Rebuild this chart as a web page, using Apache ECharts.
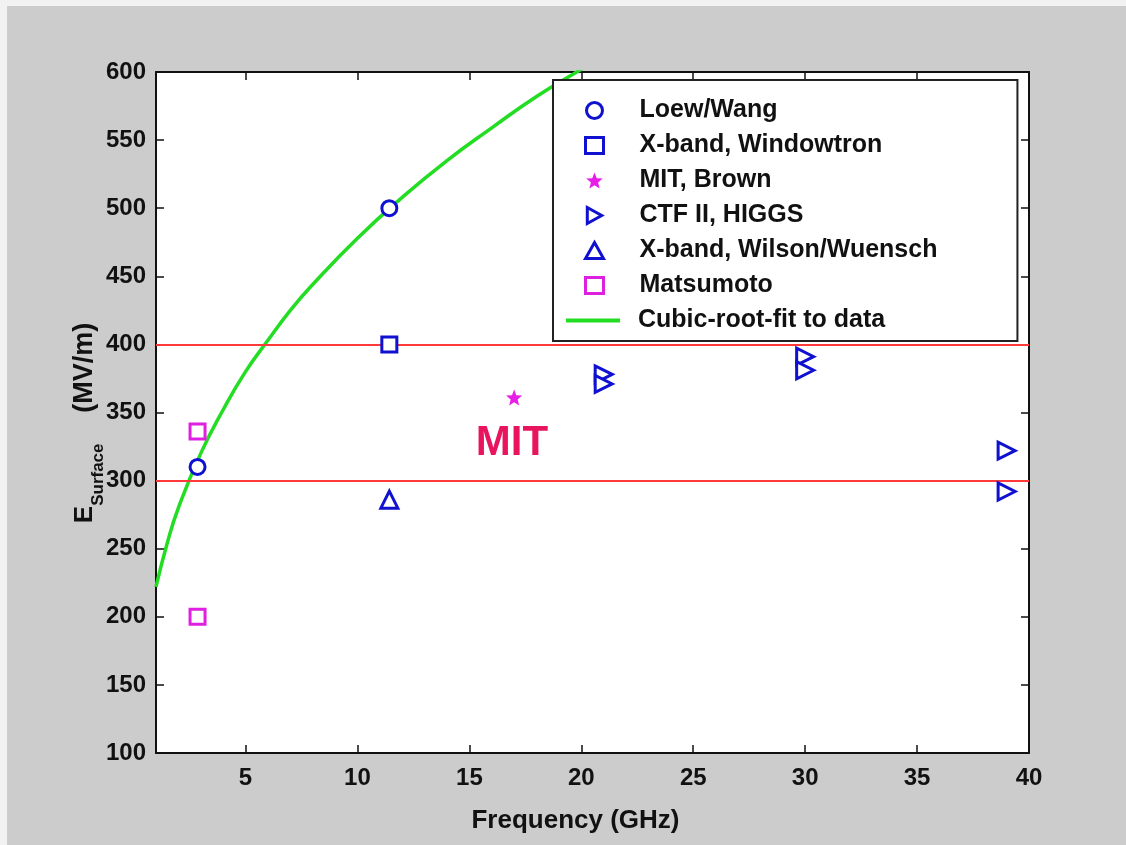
<!DOCTYPE html>
<html>
<head>
<meta charset="utf-8">
<script src="https://cdn.jsdelivr.net/npm/echarts@6/dist/echarts.min.js"></script>
<style>
html,body{margin:0;padding:0;background:#fff;}
#main{position:absolute;left:0;top:0;width:1126px;height:845px;}
</style>
</head>
<body>
<div id="main"></div>
<script>
// measured points, GHz vs MV/m
var loewWang = [[2.856, 310], [11.424, 500]];
var windowtron = [[11.424, 400]];
var mitBrown = [[17.0, 361]];
var ctfHiggs = [[21.0, 378], [21.0, 371], [30.0, 391], [30.0, 381], [39.0, 322], [39.0, 292]];
var wilsonWuensch = [[11.424, 286]];
var matsumoto = [[2.856, 336], [2.856, 200]];
// cubic root fit
var fitFreq = [1, 1.5, 2, 3, 4, 5, 6, 7, 8, 10, 12, 14, 16, 18, 20, 20.6];
var fitField = [222, 254, 280, 320, 352, 380, 403, 425, 444, 478, 508, 535, 559, 582, 602, 608];
var limitLines = [300, 400];
var xTicks = [5, 10, 15, 20, 25, 30, 35, 40];

var fitData = [];
for (var i = 0; i < fitFreq.length; i++) {
	fitData.push([fitFreq[i], fitField[i]]);
}

var font = 'Liberation Sans, Arial, sans-serif';
var dom = document.getElementById('main');
var myChart = echarts.init(dom);

function hollow(name, symbol, color, data, size, rotate) {
	return {
		name: name,
		type: 'scatter',
		symbol: symbol,
		symbolSize: size,
		symbolRotate: rotate || 0,
		itemStyle: {color: '#fff', borderColor: color, borderWidth: 3, opacity: 1},
		data: data,
		z: 5
	};
}

var legendText = {fontFamily: font, fontSize: 25, fontWeight: 'bold', color: '#111', padding: [0, 0, 0, 31]};

var option = {
	backgroundColor: '#cccccc',
	animation: false,
	graphic: [
		{type: 'rect', left: 0, top: 0, shape: {width: 1126, height: 6}, style: {fill: '#f2f2f2'}},
		{type: 'rect', left: 0, top: 0, shape: {width: 7, height: 845}, style: {fill: '#f2f2f2'}}
	],
	grid: {left: 156, right: 97, top: 72, bottom: 92, show: true, backgroundColor: '#fff', borderWidth: 0},
	legend: [{
		orient: 'vertical',
		left: 553,
		top: 80,
		backgroundColor: '#fff',
		borderColor: '#222',
		borderWidth: 2,
		padding: [18, 80, 43, 31],
		itemGap: 10,
		itemWidth: 18,
		itemHeight: 16,
		itemStyle: {borderWidth: 3},
		textStyle: legendText,
		data: [
			'Loew/Wang',
			'X-band, Windowtron',
			'MIT, Brown',
			{name: 'CTF II, HIGGS', icon: 'path://M0,0 L18,10 L0,20 Z'},
			'X-band, Wilson/Wuensch',
			'Matsumoto'
		],
		z: 10
	}, {
		orient: 'vertical',
		left: 553,
		top: 308,
		padding: [0, 0, 0, 13],
		itemWidth: 54,
		itemHeight: 4,
		textStyle: {fontFamily: font, fontSize: 25, fontWeight: 'bold', color: '#111', padding: [0, 0, 0, 13]},
		data: [{name: 'Cubic-root-fit to data', icon: 'rect'}],
		z: 11
	}],
	xAxis: [{
		type: 'value',
		min: 1,
		max: 40,
		interval: 5,
		name: 'Frequency (GHz)',
		nameLocation: 'middle',
		nameGap: 55,
		nameTextStyle: {fontFamily: font, fontSize: 26, fontWeight: 'bold', color: '#111', padding: [0, 34, 0, 0]},
		axisLine: {show: true, onZero: false, lineStyle: {color: '#111', width: 2}},
		axisTick: {inside: true, length: 8, lineStyle: {color: '#111', width: 1.5}, customValues: xTicks},
		axisLabel: {fontFamily: font, fontSize: 24, fontWeight: 'bold', color: '#111', margin: 13, customValues: xTicks},
		splitLine: {show: false}
	}, {
		type: 'value',
		position: 'top',
		min: 1,
		max: 40,
		interval: 5,
		axisLine: {show: true, onZero: false, lineStyle: {color: '#111', width: 2}},
		axisTick: {inside: true, length: 8, lineStyle: {color: '#111', width: 1.5}, customValues: xTicks},
		axisLabel: {show: false},
		splitLine: {show: false}
	}],
	yAxis: [{
		type: 'value',
		min: 100,
		max: 600,
		interval: 50,
		name: '{e|E}{s|Surface}  {u|(MV/m)}',
		nameLocation: 'middle',
		nameRotate: 90,
		nameGap: 58,
		nameMoveOverlap: false,
		nameTextStyle: {
			fontFamily: font, fontWeight: 'bold', color: '#111',
			rich: {
				e: {fontFamily: font, fontSize: 26, fontWeight: 'bold', color: '#111', lineHeight: 32, verticalAlign: 'bottom'},
				s: {fontFamily: font, fontSize: 17, fontWeight: 'bold', color: '#111', lineHeight: 32, verticalAlign: 'bottom', padding: [0, 0, -9, 0]},
				u: {fontFamily: font, fontSize: 27, fontWeight: 'bold', color: '#111', lineHeight: 32, verticalAlign: 'bottom', padding: [0, 21, 0, 24]}
			}
		},
		axisLine: {show: true, onZero: false, lineStyle: {color: '#111', width: 2}},
		axisTick: {inside: true, length: 8, lineStyle: {color: '#111', width: 1.5}},
		axisLabel: {fontFamily: font, fontSize: 24, fontWeight: 'bold', color: '#111', margin: 10},
		splitLine: {show: false}
	}, {
		type: 'value',
		position: 'right',
		min: 100,
		max: 600,
		interval: 50,
		axisLine: {show: true, onZero: false, lineStyle: {color: '#111', width: 2}},
		axisTick: {inside: true, length: 8, lineStyle: {color: '#111', width: 1.5}},
		axisLabel: {show: false},
		splitLine: {show: false}
	}],
	series: [
		{
			name: 'limits',
			type: 'line',
			data: [],
			markLine: {
				silent: true,
				symbol: 'none',
				label: {show: false},
				lineStyle: {color: '#ff3a3a', width: 2, type: 'solid'},
				data: limitLines.map(function (v) { return {yAxis: v}; })
			},
			z: 1
		},
		hollow('Loew/Wang', 'circle', '#1010d0', loewWang, 15),
		hollow('X-band, Windowtron', 'rect', '#1010d0', windowtron, 15),
		{
			name: 'MIT, Brown',
			type: 'scatter',
			symbol: 'path://M50,0 L63,33 L98,35 L71,58 L80,93 L50,74 L20,93 L29,58 L2,35 L37,33 Z',
			symbolSize: 16,
			itemStyle: {color: '#e81ee8', opacity: 1},
			data: mitBrown,
			markPoint: {
				symbol: 'circle',
				symbolSize: 0,
				label: {show: true, formatter: 'MIT', fontFamily: font, fontSize: 42, fontWeight: 'bold', color: '#e8145e'},
				data: [{coord: [16.9, 327]}]
			},
			z: 5
		},
		hollow('CTF II, HIGGS', 'triangle', '#1010d0', ctfHiggs, 17, -90),
		hollow('X-band, Wilson/Wuensch', 'triangle', '#1010d0', wilsonWuensch, 17),
		hollow('Matsumoto', 'rect', '#e020e0', matsumoto, 15),
		{
			name: 'Cubic-root-fit to data',
			type: 'line',
			symbol: 'none',
			smooth: true,
			clip: true,
			lineStyle: {color: '#22dd22', width: 3.5},
			itemStyle: {color: '#22dd22'},
			data: fitData,
			z: 4
		}
	]
};

myChart.setOption(option);
</script>
</body>
</html>
